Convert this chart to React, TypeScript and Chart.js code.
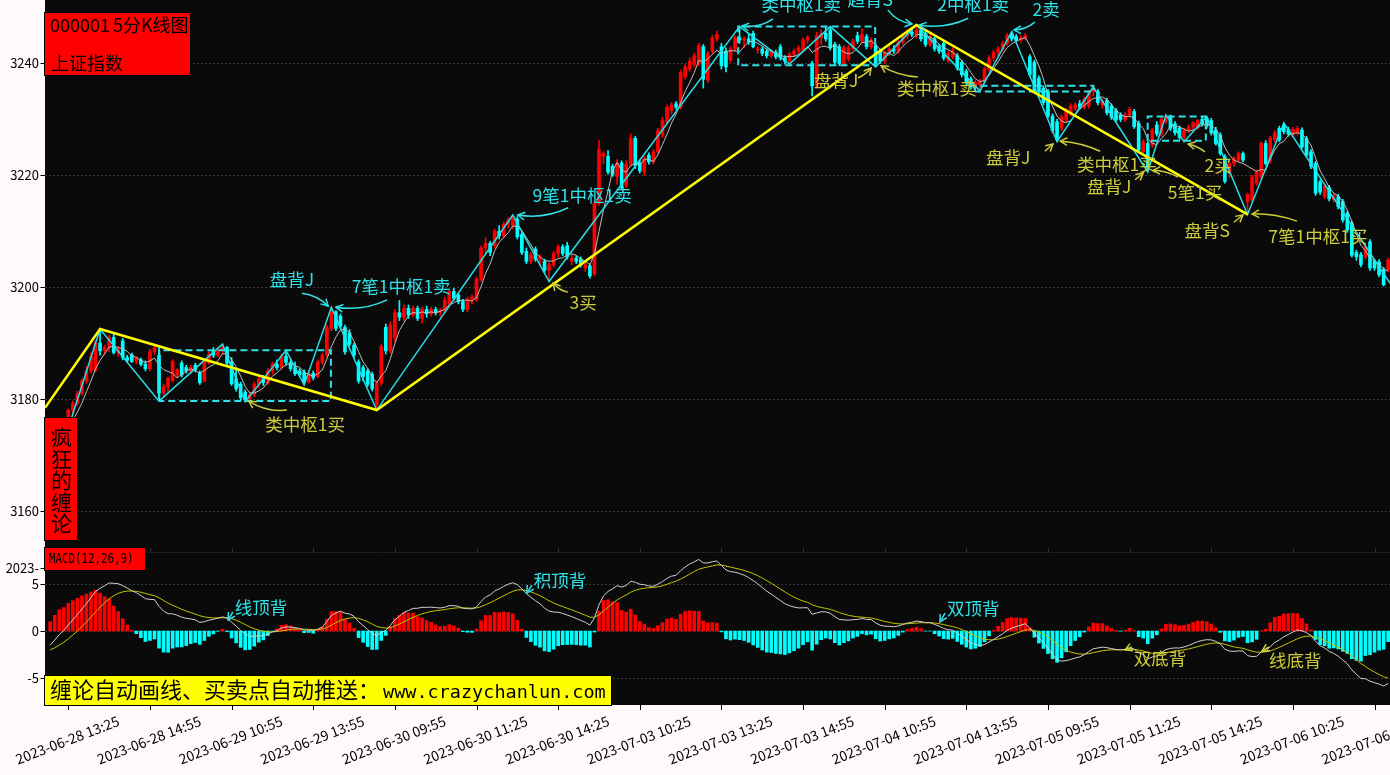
import React, { useEffect, useRef } from "react";
import { Chart, registerables } from "chart.js";
Chart.register(...registerables);

// ---------- DATA ----------
// 5-minute candles [open, high, low, close], from 2023-06-28 13:05
const CANDLES: number[][] = [
  [3176.0,3176.4,3173.6,3174.0],[3174.0,3175.2,3172.8,3173.4],[3173.4,3175.6,3173.0,3175.2],[3175.2,3176.0,3174.4,3174.8],
  [3174.8,3178.2,3174.8,3178.0],[3178.0,3179.6,3177.4,3179.2],[3179.2,3181.4,3178.8,3181.0],[3181.0,3183.6,3180.6,3183.2],
  [3183.2,3185.8,3182.8,3185.0],[3185.0,3188.2,3184.6,3187.6],[3185.2,3190.4,3184.8,3190.0],[3190.0,3192.5,3187.8,3188.6],
  [3188.6,3189.6,3187.9,3189.2],[3189.2,3191.4,3188.4,3191.0],[3191.0,3191.6,3188.0,3188.3],[3188.3,3189.4,3187.6,3188.9],
  [3190.4,3190.8,3187.0,3187.4],[3187.4,3187.8,3186.6,3186.9],[3187.9,3188.2,3186.5,3186.7],[3186.7,3187.6,3186.3,3187.3],
  [3187.0,3187.3,3185.9,3186.2],[3186.2,3186.8,3185.0,3185.4],[3185.4,3188.8,3185.0,3188.4],[3188.4,3189.6,3188.0,3189.2],
  [3187.8,3189.4,3179.6,3181.0],[3181.0,3182.6,3180.6,3182.2],[3182.2,3183.9,3181.4,3183.7],[3183.3,3187.0,3183.0,3186.7],
  [3184.3,3185.4,3183.8,3185.2],[3186.4,3186.8,3183.9,3184.3],[3185.6,3186.0,3184.6,3185.0],[3184.8,3186.0,3184.5,3185.6],
  [3186.0,3186.4,3184.8,3185.2],[3184.6,3185.0,3182.6,3182.9],[3183.2,3187.0,3183.0,3186.7],[3186.5,3188.4,3186.2,3188.0],
  [3188.6,3189.2,3187.4,3187.8],[3187.8,3189.0,3187.5,3188.8],[3188.8,3189.8,3188.0,3189.2],[3189.2,3189.4,3186.0,3186.4],
  [3186.6,3187.4,3182.4,3182.7],[3183.6,3185.3,3181.4,3181.8],[3182.6,3183.0,3179.8,3180.2],[3181.2,3181.6,3179.5,3179.9],
  [3179.9,3181.2,3179.6,3180.8],[3180.8,3183.0,3180.4,3182.6],[3182.6,3184.0,3182.0,3183.6],[3183.6,3184.2,3182.4,3182.9],
  [3182.9,3185.4,3182.6,3185.0],[3185.0,3186.6,3184.4,3186.2],[3186.2,3187.0,3185.2,3185.6],[3185.6,3188.0,3185.3,3187.6],
  [3187.6,3188.7,3186.0,3186.5],[3186.5,3187.2,3185.0,3185.4],[3185.6,3186.6,3184.2,3184.5],[3185.0,3185.4,3184.0,3184.3],
  [3184.8,3185.2,3182.5,3183.0],[3183.0,3185.0,3182.8,3184.6],[3184.6,3185.0,3183.4,3183.8],[3184.0,3187.0,3183.8,3186.6],
  [3186.6,3188.2,3186.2,3187.8],[3187.8,3193.2,3187.6,3192.8],[3192.6,3196.4,3192.2,3195.6],[3195.6,3195.8,3192.2,3192.6],
  [3194.8,3195.2,3192.6,3193.0],[3192.8,3193.2,3188.0,3188.4],[3191.8,3192.4,3189.4,3189.8],[3189.6,3190.0,3187.4,3187.8],
  [3186.6,3187.0,3182.8,3183.2],[3185.6,3186.0,3183.2,3184.0],[3185.0,3185.4,3182.2,3182.6],[3184.4,3184.8,3181.4,3181.8],
  [3179.0,3183.2,3178.0,3182.8],[3182.8,3189.8,3182.4,3189.4],[3192.8,3193.4,3188.0,3188.6],[3188.6,3193.8,3188.2,3193.2],
  [3191.0,3196.0,3190.2,3195.4],[3195.4,3197.6,3194.0,3194.6],[3194.6,3196.8,3194.0,3196.2],[3196.2,3196.8,3194.4,3195.0],
  [3195.0,3196.6,3194.6,3196.2],[3196.2,3196.6,3194.0,3194.4],[3194.4,3196.4,3193.6,3196.0],[3196.0,3196.6,3194.6,3195.2],
  [3195.2,3196.4,3194.8,3196.0],[3196.0,3196.4,3195.0,3195.4],[3195.4,3196.2,3194.8,3195.8],[3195.8,3198.2,3195.4,3197.6],
  [3197.0,3199.6,3196.6,3199.2],[3199.2,3199.8,3197.6,3198.0],[3198.6,3199.0,3197.0,3197.4],[3197.4,3197.8,3195.6,3196.0],
  [3196.0,3198.2,3195.6,3197.8],[3197.8,3198.6,3197.0,3198.2],[3197.8,3201.8,3197.4,3201.4],[3201.4,3207.4,3201.0,3207.0],
  [3207.0,3208.8,3206.0,3207.8],[3207.8,3208.2,3205.6,3206.2],[3207.4,3210.4,3207.0,3210.0],[3210.0,3211.0,3208.6,3209.2],
  [3209.2,3211.6,3208.8,3211.2],[3211.2,3212.4,3210.6,3212.0],[3211.0,3212.9,3210.4,3212.4],[3212.2,3212.6,3208.6,3209.0],
  [3209.4,3209.8,3205.8,3206.2],[3206.4,3207.0,3204.2,3204.6],[3204.6,3206.2,3204.2,3205.8],[3206.8,3207.2,3204.6,3205.0],
  [3205.0,3205.8,3203.8,3205.4],[3204.6,3205.0,3202.6,3203.0],[3203.0,3204.4,3201.0,3204.0],[3204.0,3206.4,3203.6,3206.0],
  [3206.0,3207.6,3205.4,3207.2],[3207.2,3207.6,3205.6,3206.0],[3207.4,3208.0,3205.0,3205.4],[3204.6,3205.8,3204.0,3205.2],
  [3205.2,3205.6,3204.2,3204.6],[3205.0,3205.4,3203.6,3204.0],[3203.4,3204.6,3202.8,3204.0],[3203.8,3204.2,3201.6,3202.0],
  [3202.4,3215.4,3202.0,3215.0],[3215.0,3226.2,3214.6,3224.6],[3223.4,3224.2,3222.0,3223.8],[3223.4,3224.4,3220.2,3220.6],
  [3221.6,3222.0,3219.8,3220.2],[3219.8,3222.8,3218.4,3222.2],[3222.2,3222.6,3217.4,3217.8],[3218.2,3222.6,3217.8,3222.0],
  [3222.0,3227.4,3221.6,3226.6],[3226.6,3227.0,3221.2,3221.8],[3222.2,3222.8,3220.4,3220.8],[3220.6,3223.4,3220.0,3223.0],
  [3223.6,3224.0,3222.0,3222.4],[3222.4,3224.6,3222.0,3224.2],[3224.2,3228.4,3223.8,3228.0],[3227.2,3230.4,3226.8,3229.8],
  [3229.6,3232.6,3229.2,3232.2],[3231.6,3233.0,3231.0,3232.6],[3232.8,3233.2,3231.8,3232.2],[3232.2,3238.8,3231.8,3238.4],
  [3237.6,3239.8,3237.2,3239.4],[3239.0,3241.0,3238.6,3240.4],[3239.8,3241.8,3239.4,3241.4],[3240.0,3243.6,3239.6,3243.2],
  [3243.0,3243.4,3235.6,3237.2],[3237.0,3242.2,3236.6,3241.8],[3242.2,3245.0,3241.8,3244.6],[3244.4,3245.8,3244.0,3245.2],
  [3243.0,3243.6,3239.0,3239.6],[3242.2,3242.8,3238.5,3239.4],[3240.6,3243.0,3240.2,3242.6],[3242.6,3245.0,3242.2,3244.6],
  [3244.6,3246.6,3243.6,3244.2],[3244.2,3244.8,3242.8,3244.4],[3244.4,3245.4,3243.4,3243.8],[3245.4,3245.8,3242.8,3243.0],
  [3242.4,3243.0,3241.8,3242.6],[3242.6,3243.0,3241.4,3241.8],[3242.2,3242.6,3241.0,3241.4],[3241.4,3242.4,3241.0,3242.0],
  [3242.0,3242.4,3240.8,3241.2],[3243.0,3243.4,3240.6,3241.0],[3241.0,3241.4,3239.9,3240.4],[3240.4,3242.0,3240.0,3241.6],
  [3241.6,3242.6,3241.2,3242.2],[3242.2,3243.2,3241.8,3242.8],[3242.4,3244.6,3242.0,3244.2],[3244.2,3245.0,3243.6,3244.6],
  [3240.0,3240.4,3234.2,3236.0],[3236.0,3245.6,3235.6,3245.0],[3244.6,3246.0,3243.4,3245.4],[3245.4,3246.6,3244.0,3244.4],
  [3246.0,3246.6,3242.4,3242.8],[3243.4,3243.8,3239.8,3240.2],[3243.0,3243.4,3239.6,3240.0],[3240.0,3243.2,3239.6,3242.8],
  [3240.8,3243.2,3240.4,3242.8],[3242.8,3244.4,3242.4,3244.0],[3245.0,3245.6,3243.6,3244.0],[3244.0,3246.2,3243.6,3245.2],
  [3244.8,3245.2,3242.6,3243.0],[3243.0,3244.6,3242.6,3244.2],[3243.2,3243.6,3239.4,3240.0],[3242.2,3242.6,3240.0,3240.4],
  [3240.4,3242.2,3240.0,3241.8],[3241.8,3243.0,3241.4,3242.6],[3242.6,3243.2,3241.8,3242.2],[3242.2,3244.2,3241.8,3243.8],
  [3243.8,3245.4,3243.4,3245.0],[3245.0,3246.0,3244.4,3245.6],[3245.6,3246.4,3244.8,3245.2],[3245.2,3246.9,3244.6,3246.0],
  [3246.0,3246.4,3244.0,3244.4],[3245.4,3245.8,3243.0,3243.4],[3243.4,3245.2,3243.0,3244.8],[3244.4,3244.8,3242.2,3242.6],
  [3243.0,3243.4,3241.8,3242.2],[3243.6,3244.0,3240.6,3241.0],[3240.6,3242.2,3240.2,3241.8],[3241.2,3242.8,3240.8,3242.4],
  [3241.4,3241.8,3238.8,3239.2],[3240.2,3240.6,3237.6,3238.0],[3238.6,3239.0,3236.2,3236.6],[3237.2,3237.6,3235.4,3235.8],
  [3235.8,3237.0,3235.3,3236.6],[3236.2,3237.2,3235.1,3236.8],[3236.8,3239.4,3236.4,3239.0],[3239.0,3241.4,3238.6,3241.0],
  [3241.0,3242.4,3240.4,3242.0],[3242.0,3243.0,3241.4,3242.6],[3242.6,3244.0,3242.2,3243.6],[3243.6,3245.4,3243.2,3245.0],
  [3245.4,3245.7,3244.0,3244.4],[3244.8,3245.2,3243.8,3244.2],[3244.2,3245.0,3243.8,3244.6],[3244.6,3245.4,3244.2,3245.0],
  [3241.2,3241.6,3237.6,3238.0],[3240.2,3240.6,3234.8,3235.2],[3237.4,3237.8,3234.6,3235.0],[3235.6,3236.0,3232.6,3233.0],
  [3235.0,3235.4,3230.2,3230.6],[3230.6,3231.0,3227.6,3228.0],[3229.6,3230.0,3226.0,3226.4],[3228.4,3230.8,3228.0,3230.4],
  [3229.9,3232.0,3229.6,3231.7],[3231.0,3232.8,3230.6,3232.4],[3232.0,3233.0,3231.6,3232.6],[3232.8,3233.4,3231.8,3232.2],
  [3232.2,3234.0,3231.8,3233.6],[3232.4,3235.2,3232.0,3235.0],[3235.0,3235.8,3234.2,3235.4],[3235.0,3235.4,3232.6,3233.0],
  [3232.6,3233.6,3232.0,3233.2],[3233.4,3233.8,3230.8,3231.2],[3232.4,3232.8,3230.0,3230.4],[3231.6,3232.0,3229.6,3229.9],
  [3230.8,3231.2,3229.6,3230.0],[3229.9,3231.2,3229.6,3230.8],[3230.8,3232.2,3230.4,3231.8],[3231.4,3231.8,3228.4,3228.7],
  [3229.3,3229.7,3224.2,3224.5],[3224.2,3226.4,3223.8,3226.0],[3225.7,3226.1,3220.6,3221.4],[3225.4,3228.4,3225.0,3228.1],
  [3229.0,3229.6,3227.0,3227.4],[3227.4,3230.4,3227.0,3230.0],[3229.6,3230.8,3229.2,3230.4],[3230.4,3230.8,3228.0,3228.4],
  [3229.2,3229.6,3227.2,3227.6],[3228.4,3228.8,3226.4,3226.8],[3226.8,3228.4,3226.0,3228.0],[3228.0,3229.0,3227.6,3228.6],
  [3228.6,3229.6,3228.2,3229.4],[3228.6,3230.0,3228.2,3229.8],[3230.0,3230.4,3228.8,3229.2],[3230.2,3230.5,3228.4,3228.8],
  [3229.8,3230.2,3227.2,3227.6],[3228.1,3228.6,3225.4,3225.7],[3227.2,3227.6,3223.6,3223.9],[3223.3,3223.7,3218.6,3218.9],
  [3220.4,3222.4,3219.6,3222.1],[3222.1,3223.4,3221.6,3223.0],[3222.7,3224.2,3222.4,3223.9],[3223.9,3224.2,3222.4,3222.7],
  [3215.3,3216.8,3213.0,3216.5],[3215.6,3220.0,3215.2,3219.7],[3218.6,3221.0,3218.2,3220.6],[3219.7,3226.0,3219.4,3225.7],
  [3225.7,3226.2,3221.8,3222.1],[3222.6,3227.0,3222.2,3226.6],[3226.4,3228.0,3226.0,3227.6],[3228.4,3228.8,3226.0,3226.3],
  [3229.0,3229.4,3227.4,3227.8],[3228.2,3228.6,3227.0,3227.4],[3227.2,3228.6,3226.8,3228.2],[3227.6,3228.8,3227.2,3228.4],
  [3228.1,3228.5,3224.8,3225.1],[3226.6,3227.0,3223.2,3223.6],[3224.2,3224.6,3221.2,3221.6],[3222.1,3222.5,3216.4,3216.8],
  [3218.8,3219.2,3216.6,3217.0],[3216.2,3218.4,3215.8,3218.0],[3217.8,3218.2,3215.4,3215.8],[3215.6,3216.8,3215.2,3216.4],
  [3216.2,3216.6,3214.0,3214.4],[3215.3,3215.7,3211.6,3212.0],[3213.2,3213.6,3209.8,3210.2],[3211.4,3211.8,3205.4,3205.7],
  [3206.2,3206.6,3204.8,3205.4],[3205.8,3206.2,3203.6,3204.0],[3205.4,3207.6,3205.0,3207.2],[3208.1,3208.5,3203.0,3203.4],
  [3204.6,3205.0,3203.0,3203.4],[3204.5,3204.9,3201.8,3202.2],[3203.1,3203.5,3200.2,3200.4],[3203.1,3205.2,3202.8,3204.8],
];

// 笔 (strokes): [bar index, price]
const BI_POINTS: number[][] = [
  [4,3174.8],[11,3192.5],[24,3179.6],[38,3189.8],[43,3179.5],[52,3188.7],[56,3182.5],[62,3196.4],
  [72,3178.0],[102,3212.9],[110,3201.0],[152,3246.6],[163,3239.9],[172,3246.6],[182,3239.4],[191,3246.9],
  [205,3235.1],[212,3245.7],[222,3226.0],[230,3235.8],[242,3220.6],[246,3230.8],[250,3226.0],[255,3230.5],
  [264,3213.0],[272,3229.4],[296,3200.0],
];
// 线段 (segments)
const SEGMENT_POINTS: number[][] = [[-1.14,3178.4],[11,3192.5],[72,3178.0],[191,3246.9],[264,3213.0]];
// 中枢 boxes: [start index, end index, low, high]
const ZHONGSHU: number[][] = [
  [24.06,61.9,3179.6,3188.7],
  [151.7,181.9,3239.7,3246.6],
  [203.9,230.0,3235.0,3236.0],
  [241.98,254.8,3226.2,3230.5],
];
const PRICE_TICKS = [3160, 3180, 3200, 3220, 3240];
const MACD_TICKS = [5, 0, -5];
const X_TICK_START = 4;
const X_TICK_STEP = 18;
const X_TICK_LABELS = [
  "2023-06-28 13:25","2023-06-28 14:55","2023-06-29 10:55","2023-06-29 13:55","2023-06-30 09:55",
  "2023-06-30 11:25","2023-06-30 14:25","2023-07-03 10:25","2023-07-03 13:25","2023-07-03 14:55",
  "2023-07-04 10:55","2023-07-04 13:55","2023-07-05 09:55","2023-07-05 11:25","2023-07-05 14:25",
  "2023-07-06 10:25","2023-07-06 13:25",
];
const MA_PERIOD = 5;
const MACD_FAST = 12, MACD_SLOW = 26, MACD_SIGNAL = 9;
// state of the EMAs carried in from the bars before the first visible one
const MACD_SEED_FAST_OFFSET = -6.0; // prior fast EMA relative to first close
const MACD_SEED_DIF = -1.5, MACD_SEED_DEA = -2.0;

// annotations: text, colour key, text anchor [idx, value], arrow from, arrow to, bend(px)
const MAIN_NOTES: any[] = [
  ["类中枢1买","y",[56.2,3175.5],[52.2,3178.0],[43.8,3179.6],-7],
  ["3买","y",[117.5,3197.3],[114.2,3199.1],[110.9,3200.7],-3],
  ["盘背J","c",[53.3,3201.4],[55.5,3198.9],[61.3,3196.6],-5],
  ["7笔1中枢1卖","c",[77.4,3200.2],[74.3,3197.7],[63.0,3196.4],-8],
  ["9笔1中枢1卖","c",[117.3,3216.5],[114.2,3214.2],[103.1,3212.9],-8],
  ["类中枢1卖","c",[165.6,3250.5],[159.4,3248.0],[152.5,3246.7],-6],
  ["趋背S","c",[180.8,3251.5],[184.7,3249.6],[190.0,3247.1],6],
  ["2中枢1卖","c",[203.5,3250.5],[202.4,3248.1],[191.6,3246.9],-8],
  ["2卖","c",[219.6,3249.6],[217.1,3247.4],[212.5,3246.0],-4],
  ["盘背J","y",[173.3,3236.9],[178.1,3237.4],[181.0,3239.2],2],
  ["类中枢1卖","y",[195.5,3235.6],[191.3,3237.6],[183.2,3239.6],-5],
  ["盘背J","y",[211.2,3223.3],[219.3,3224.3],[221.1,3225.6],0],
  ["类中枢1买","y",[235.2,3222.0],[231.5,3224.3],[222.7,3226.1],4],
  ["盘背J","y",[233.5,3218.1],[239.2,3219.2],[241.0,3220.4],0],
  ["5笔1买","y",[252.4,3217.0],[248.7,3219.7],[243.2,3220.9],3],
  ["2买","y",[257.5,3221.8],[254.6,3224.2],[250.9,3225.6],2],
  ["盘背S","y",[255.1,3210.2],[261.0,3211.6],[263.0,3212.9],0],
  ["7笔1中枢1买","y",[279.5,3209.0],[274.9,3211.8],[265.0,3213.1],4],
];
const MACD_NOTES: any[] = [
  ["线顶背","c",[46.5,2.55],[40.3,2.02],[39.2,1.17],0],
  ["积顶背","c",[112.4,5.43],[106.2,4.89],[105.1,4.04],0],
  ["双顶背","c",[203.5,2.45],[197.3,1.91],[196.2,0.96],0],
  ["双底背","y",[244.7,-2.87],[238.5,-1.70],[237.0,-2.02],0],
  ["线底背","y",[274.5,-3.09],[268.7,-1.70],[267.2,-2.13],0],
];

// ---------- STYLE ----------
const X_MIN = -1.14, X_MAX = 295.41;
const P_MIN = 3153.86, P_MAX = 3251.36;
const M_MIN = -7.872, M_MAX = 8.404;
const LEFT = 45;
const UP = "#ff0000", DOWN = "#00ffff";
const NOTE_COLORS: Record<string, string> = { c: "#2fe2ea", y: "#cccc3c" };
const CJK = '"Noto Sans CJK SC", "Noto Sans", sans-serif';
const PAGE_BG = "#fffafa";
const PLOT_BG = "#0a0a0a";

// ---------- DERIVED ----------
const CLOSES = CANDLES.map((c) => c[3]);
const MA = CLOSES.map((_, i) => {
  if (i < MA_PERIOD - 1) return null;
  let s = 0;
  for (let k = i - MA_PERIOD + 1; k <= i; k++) s += CLOSES[k];
  return s / MA_PERIOD;
});
function computeMacd(closes: number[]) {
  const dif: number[] = [], dea: number[] = [], hist: number[] = [];
  let ef = closes[0] + MACD_SEED_FAST_OFFSET;
  let es = ef - MACD_SEED_DIF;
  let d = MACD_SEED_DEA;
  for (let i = 0; i < closes.length; i++) {
    if (i > 0) {
      ef += ((closes[i] - ef) * 2) / (MACD_FAST + 1);
      es += ((closes[i] - es) * 2) / (MACD_SLOW + 1);
    }
    const f = ef - es;
    if (i > 0) d += ((f - d) * 2) / (MACD_SIGNAL + 1);
    dif.push(f); dea.push(d); hist.push(2 * (f - d));
  }
  return { dif, dea, hist };
}
const MACD = computeMacd(CLOSES);
const candleColors = CANDLES.map((c) => (c[3] >= c[0] ? UP : DOWN));

function drawArrow(ctx: CanvasRenderingContext2D, x1: number, y1: number, x2: number, y2: number, bend: number) {
  const dx = x2 - x1, dy = y2 - y1, len = Math.hypot(dx, dy) || 1;
  const nx = -dy / len, ny = dx / len;
  const cx = (x1 + x2) / 2 + nx * bend, cy = (y1 + y2) / 2 + ny * bend;
  ctx.beginPath();
  ctx.moveTo(x1, y1);
  ctx.quadraticCurveTo(cx, cy, x2, y2);
  ctx.stroke();
  const ang = Math.atan2(y2 - cy, x2 - cx);
  const L = 8, a = 0.5;
  ctx.beginPath();
  ctx.moveTo(x2 - L * Math.cos(ang - a), y2 - L * Math.sin(ang - a));
  ctx.lineTo(x2, y2);
  ctx.lineTo(x2 - L * Math.cos(ang + a), y2 - L * Math.sin(ang + a));
  ctx.stroke();
}
function drawNotes(chart: any, notes: any[]) {
  const { ctx, scales } = chart;
  const xs = scales.x, ys = scales.y;
  ctx.save();
  ctx.font = `17.5px ${CJK}`;
  ctx.textAlign = "center";
  ctx.textBaseline = "middle";
  ctx.lineWidth = 1.5;
  for (const [t, c, at, from, to, bend] of notes) {
    ctx.fillStyle = NOTE_COLORS[c];
    ctx.strokeStyle = NOTE_COLORS[c];
    ctx.fillText(t, xs.getPixelForValue(at[0]), ys.getPixelForValue(at[1]));
    drawArrow(ctx, xs.getPixelForValue(from[0]), ys.getPixelForValue(from[1]),
      xs.getPixelForValue(to[0]), ys.getPixelForValue(to[1]), bend);
  }
  ctx.restore();
}
function hGrid(chart: any, values: number[]) {
  const { ctx, chartArea, scales } = chart;
  ctx.save();
  ctx.strokeStyle = "#383838";
  ctx.lineWidth = 1;
  ctx.setLineDash([2, 2]);
  for (const v of values) {
    const y = Math.round(scales.y.getPixelForValue(v)) + 0.5;
    ctx.beginPath(); ctx.moveTo(chartArea.left, y); ctx.lineTo(chartArea.right, y); ctx.stroke();
  }
  ctx.restore();
}
function yLabels(chart: any, values: number[], fmt: (v: number) => string) {
  const { ctx, chartArea, scales } = chart;
  ctx.save();
  ctx.fillStyle = "#000"; ctx.strokeStyle = "#000"; ctx.lineWidth = 1;
  ctx.font = `13px ${CJK}`;
  ctx.textAlign = "right"; ctx.textBaseline = "middle";
  for (const v of values) {
    const y = Math.round(scales.y.getPixelForValue(v)) + 0.5;
    ctx.beginPath(); ctx.moveTo(chartArea.left - 4.5, y); ctx.lineTo(chartArea.left, y); ctx.stroke();
    ctx.fillText(fmt(v), chartArea.left - 6, y);
  }
  ctx.restore();
}
function box(ctx: CanvasRenderingContext2D, x: number, y: number, w: number, h: number, fill: string) {
  ctx.fillStyle = fill; ctx.fillRect(x, y, w, h);
  ctx.strokeStyle = "#000"; ctx.lineWidth = 1; ctx.strokeRect(x + 0.5, y + 0.5, w - 1, h - 1);
}

const mainPlugin = {
  id: "mainDeco",
  beforeDatasetsDraw(chart: any) {
    const { ctx, chartArea } = chart;
    ctx.save();
    ctx.fillStyle = PLOT_BG;
    ctx.fillRect(chartArea.left, chartArea.top, chartArea.right - chartArea.left, chartArea.bottom - chartArea.top);
    ctx.restore();
    hGrid(chart, PRICE_TICKS);
    yLabels(chart, PRICE_TICKS, (v) => String(v));
  },
  afterDatasetsDraw(chart: any) {
    const { ctx } = chart;
    drawNotes(chart, MAIN_NOTES);
    ctx.save();
    box(ctx, 44, 12, 147, 64, "#ff0000");
    ctx.fillStyle = "#000"; ctx.font = `18px ${CJK}`; ctx.textAlign = "left"; ctx.textBaseline = "alphabetic";
    ctx.fillText("000001", 50, 32);
    ctx.fillText("5分K线图", 113, 32);
    ctx.fillText("上证指数", 51, 70);
    box(ctx, 44, 417, 34, 124, "#ff0000");
    ctx.fillStyle = "#000";
    ctx.font = `21px ${CJK}`; ctx.textAlign = "center"; ctx.textBaseline = "middle";
    ["疯", "狂", "的", "缠", "论"].forEach((ch, k) => ctx.fillText(ch, 61.5, 437 + k * 21.6));
    ctx.restore();
  },
};

const macdPlugin = {
  id: "macdDeco",
  beforeDatasetsDraw(chart: any) {
    const { ctx, chartArea, scales } = chart;
    ctx.save();
    ctx.fillStyle = PLOT_BG;
    ctx.fillRect(chartArea.left, 0, chartArea.right - chartArea.left, chartArea.bottom);
    // ticks of the price panel's bottom axis
    ctx.strokeStyle = "#333"; ctx.lineWidth = 1;
    for (let k = 0; k < X_TICK_LABELS.length; k++) {
      const x = Math.round(scales.x.getPixelForValue(X_TICK_START + k * X_TICK_STEP)) + 0.5;
      ctx.beginPath(); ctx.moveTo(x, 3); ctx.lineTo(x, 7); ctx.stroke();
    }
    ctx.strokeStyle = "#1e1e1e";
    ctx.beginPath(); ctx.moveTo(chartArea.left, 7.5); ctx.lineTo(chartArea.right, 7.5); ctx.stroke();
    ctx.restore();
    hGrid(chart, MACD_TICKS);
    yLabels(chart, MACD_TICKS, (v) => String(v));
    ctx.save();
    ctx.fillStyle = "#000"; ctx.strokeStyle = "#000"; ctx.font = `13px ${CJK}`;
    ctx.textAlign = "right"; ctx.textBaseline = "middle";
    ctx.fillText("2023-", chartArea.left - 6, 23);
    ctx.beginPath(); ctx.moveTo(chartArea.left - 4.5, 23.5); ctx.lineTo(chartArea.left, 23.5); ctx.stroke();
    ctx.restore();
  },
  afterDatasetsDraw(chart: any) {
    const { ctx, chartArea, scales } = chart;
    drawNotes(chart, MACD_NOTES);
    ctx.save();
    // x ticks + rotated labels
    ctx.strokeStyle = "#000"; ctx.lineWidth = 1; ctx.fillStyle = "#000";
    ctx.font = `14px ${CJK}`; ctx.textAlign = "center"; ctx.textBaseline = "middle";
    X_TICK_LABELS.forEach((lab, k) => {
      const xv = scales.x.getPixelForValue(X_TICK_START + k * X_TICK_STEP);
      const x = Math.round(xv) + 0.5;
      ctx.beginPath(); ctx.moveTo(x, chartArea.bottom); ctx.lineTo(x, chartArea.bottom + 5); ctx.stroke();
      ctx.save();
      ctx.translate(xv - 1, chartArea.bottom + 35);
      ctx.rotate((-21 * Math.PI) / 180);
      ctx.fillText(lab, 0, 0);
      ctx.restore();
    });
    // MACD label
    box(ctx, 44, 2, 102, 24, "#ff0000");
    ctx.fillStyle = "#000"; ctx.font = `13.5px "DejaVu Sans Mono", monospace`;
    ctx.textAlign = "left"; ctx.textBaseline = "middle";
    ctx.save();
    ctx.translate(49, 14.5);
    ctx.scale(0.8, 1);
    ctx.fillText("MACD(12,26,9)", 0, 0);
    ctx.restore();
    // bottom yellow banner
    box(ctx, 44, 130, 568, 31, "#ffff00");
    ctx.fillStyle = "#000"; ctx.textBaseline = "alphabetic";
    ctx.font = `22px ${CJK}`;
    ctx.fillText("缠论自动画线、买卖点自动推送：", 50, 153);
    ctx.font = `18.5px "DejaVu Sans Mono", monospace`;
    ctx.fillText("www.crazychanlun.com", 383, 153);
    ctx.restore();
  },
};

export default function App() {
  const mainRef = useRef<HTMLCanvasElement>(null);
  const macdRef = useRef<HTMLCanvasElement>(null);
  useEffect(() => {
    const lineBase = { type: "line", pointRadius: 0, fill: false, tension: 0 };
    const main = new Chart(mainRef.current as HTMLCanvasElement, {
      type: "bar",
      data: {
        datasets: [
          { ...lineBase, label: "线段", data: SEGMENT_POINTS.map(([x, y]) => ({ x, y })), borderColor: "#ffff00", borderWidth: 2.5, order: 0 },
          { ...lineBase, label: "笔", data: BI_POINTS.map(([x, y]) => ({ x, y })), borderColor: "#28dde6", borderWidth: 1.5, order: 1 },
          ...ZHONGSHU.map(([a, b, lo, hi], k) => ({
            ...lineBase, label: "中枢" + k,
            data: [{ x: a, y: lo }, { x: a, y: hi }, { x: b, y: hi }, { x: b, y: lo }, { x: a, y: lo }],
            borderColor: "#2ee2ea", borderWidth: 2, borderDash: [7, 4], order: 2,
          })),
          { ...lineBase, label: "MA5", data: MA.map((y, x) => ({ x, y })), borderColor: "#bdbdbd", borderWidth: 1, order: 3 },
          { type: "bar", label: "body", data: CANDLES.map((c, x) => ({ x, y: [c[0], c[3]] })), backgroundColor: candleColors, barThickness: 3, grouped: false, minBarLength: 1, order: 4 },
          { type: "bar", label: "wick", data: CANDLES.map((c, x) => ({ x, y: [c[2], c[1]] })), backgroundColor: candleColors, barThickness: 1, grouped: false, order: 5 },
        ] as any,
      },
      options: {
        animation: false, responsive: false, devicePixelRatio: 1, events: [],
        layout: { padding: { left: LEFT, right: 0, top: 0, bottom: 0 } },
        plugins: { legend: { display: false }, tooltip: { enabled: false } },
        scales: {
          x: { type: "linear", min: X_MIN, max: X_MAX, display: false, offset: false },
          y: { type: "linear", min: P_MIN, max: P_MAX, display: false },
        },
      } as any,
      plugins: [mainPlugin],
    });
    const macd = new Chart(macdRef.current as HTMLCanvasElement, {
      type: "bar",
      data: {
        datasets: [
          { ...lineBase, label: "DIF", data: MACD.dif.map((y, x) => ({ x, y })), borderColor: "#d0d0d0", borderWidth: 1, order: 0 },
          { ...lineBase, label: "DEA", data: MACD.dea.map((y, x) => ({ x, y })), borderColor: "#c4c400", borderWidth: 1, order: 1 },
          { type: "bar", label: "MACD", data: MACD.hist.map((y, x) => ({ x, y })), backgroundColor: MACD.hist.map((v) => (v >= 0 ? UP : DOWN)), barThickness: 3, grouped: false, order: 2 },
        ] as any,
      },
      options: {
        animation: false, responsive: false, devicePixelRatio: 1, events: [],
        layout: { padding: { left: LEFT, right: 0, top: 7, bottom: 70 } },
        plugins: { legend: { display: false }, tooltip: { enabled: false } },
        scales: {
          x: { type: "linear", min: X_MIN, max: X_MAX, display: false, offset: false },
          y: { type: "linear", min: M_MIN, max: M_MAX, display: false },
        },
      } as any,
      plugins: [macdPlugin],
    });
    return () => { main.destroy(); macd.destroy(); };
  }, []);
  return (
    <div style={{ position: "absolute", left: 0, top: 0, width: 1390, height: 775, background: PAGE_BG, overflow: "hidden" }}>
      <canvas ref={mainRef} width={1390} height={545} style={{ position: "absolute", left: 0, top: 0, width: 1390, height: 545 }} />
      <canvas ref={macdRef} width={1390} height={230} style={{ position: "absolute", left: 0, top: 545, width: 1390, height: 230 }} />
    </div>
  );
}
